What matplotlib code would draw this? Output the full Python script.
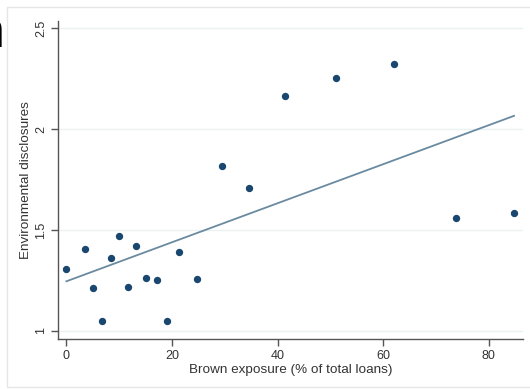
import numpy as np
import matplotlib
matplotlib.use('Agg')
import matplotlib.pyplot as plt
from matplotlib.patches import Rectangle

# brown exposure (% of total loans) vs environmental disclosures
brown_exposure = [0.0, 3.6, 5.1, 6.8, 8.5, 10.0, 11.6, 13.1, 15.0, 17.1,
                  19.0, 21.3, 24.7, 29.4, 34.6, 41.4, 51.1, 62.0, 73.9, 84.8]
env_disclosures = [1.308, 1.406, 1.215, 1.048, 1.361, 1.470, 1.216, 1.421, 1.263, 1.253,
                   1.048, 1.391, 1.258, 1.816, 1.709, 2.162, 2.253, 2.323, 1.561, 1.586]

x_ticks = [0, 20, 40, 60, 80]
y_ticks = [1, 1.5, 2, 2.5]
y_tick_labels = ['1', '1.5', '2', '2.5']

plt.rcParams['font.family'] = ['Liberation Sans', 'DejaVu Sans']

W, H = 530, 389
fig = plt.figure(figsize=(W / 100, H / 100), dpi=100)
fig.patch.set_facecolor('white')

# light outer frame
fig.patches.append(Rectangle((7 / W, 2 / H), 1.0, (H - 9) / H, transform=fig.transFigure,
                             fill=False, edgecolor='#e6e6e6', linewidth=1.0))

# cropped letter from surrounding page
fig.text(4.5 / W, 1 - 47 / H, 'n', fontsize=36, ha='right', va='baseline', color='black')

ax = fig.add_axes([58 / W, (H - 339) / H, (523 - 58) / W, (339 - 21) / H])

x = np.array(brown_exposure)
y = np.array(env_disclosures)
ax.scatter(x, y, s=28, color='#1a476f', zorder=3, linewidths=0)

slope, intercept = np.polyfit(x, y, 1)
xs = np.array([x.min(), x.max()])
ax.plot(xs, intercept + slope * xs, color='#6a8aa0', linewidth=1.3, zorder=2)

ax.set_xlim(-1.6, 86.5)
ax.set_ylim(0.96, 2.535)
ax.set_xticks(x_ticks)
ax.set_yticks(y_ticks)
ax.set_yticklabels(y_tick_labels, rotation=90, va='center')
ax.grid(axis='y', color='#eaf2f3', linewidth=1.0)
ax.set_axisbelow(True)

for side in ['top', 'right']:
    ax.spines[side].set_visible(False)
for side in ['left', 'bottom']:
    ax.spines[side].set_color('#555555')
    ax.spines[side].set_linewidth(1.0)

ax.tick_params(axis='both', colors='#555555', labelcolor='#333333', length=5,
               width=1.0, labelsize=9, pad=3)

ax.set_xlabel('Brown exposure (% of total loans)', fontsize=9.7, color='#333333', labelpad=1)
ax.set_ylabel('Environmental disclosures', fontsize=9.7, color='#333333', labelpad=2)

fig.savefig('out.png', dpi=100)
